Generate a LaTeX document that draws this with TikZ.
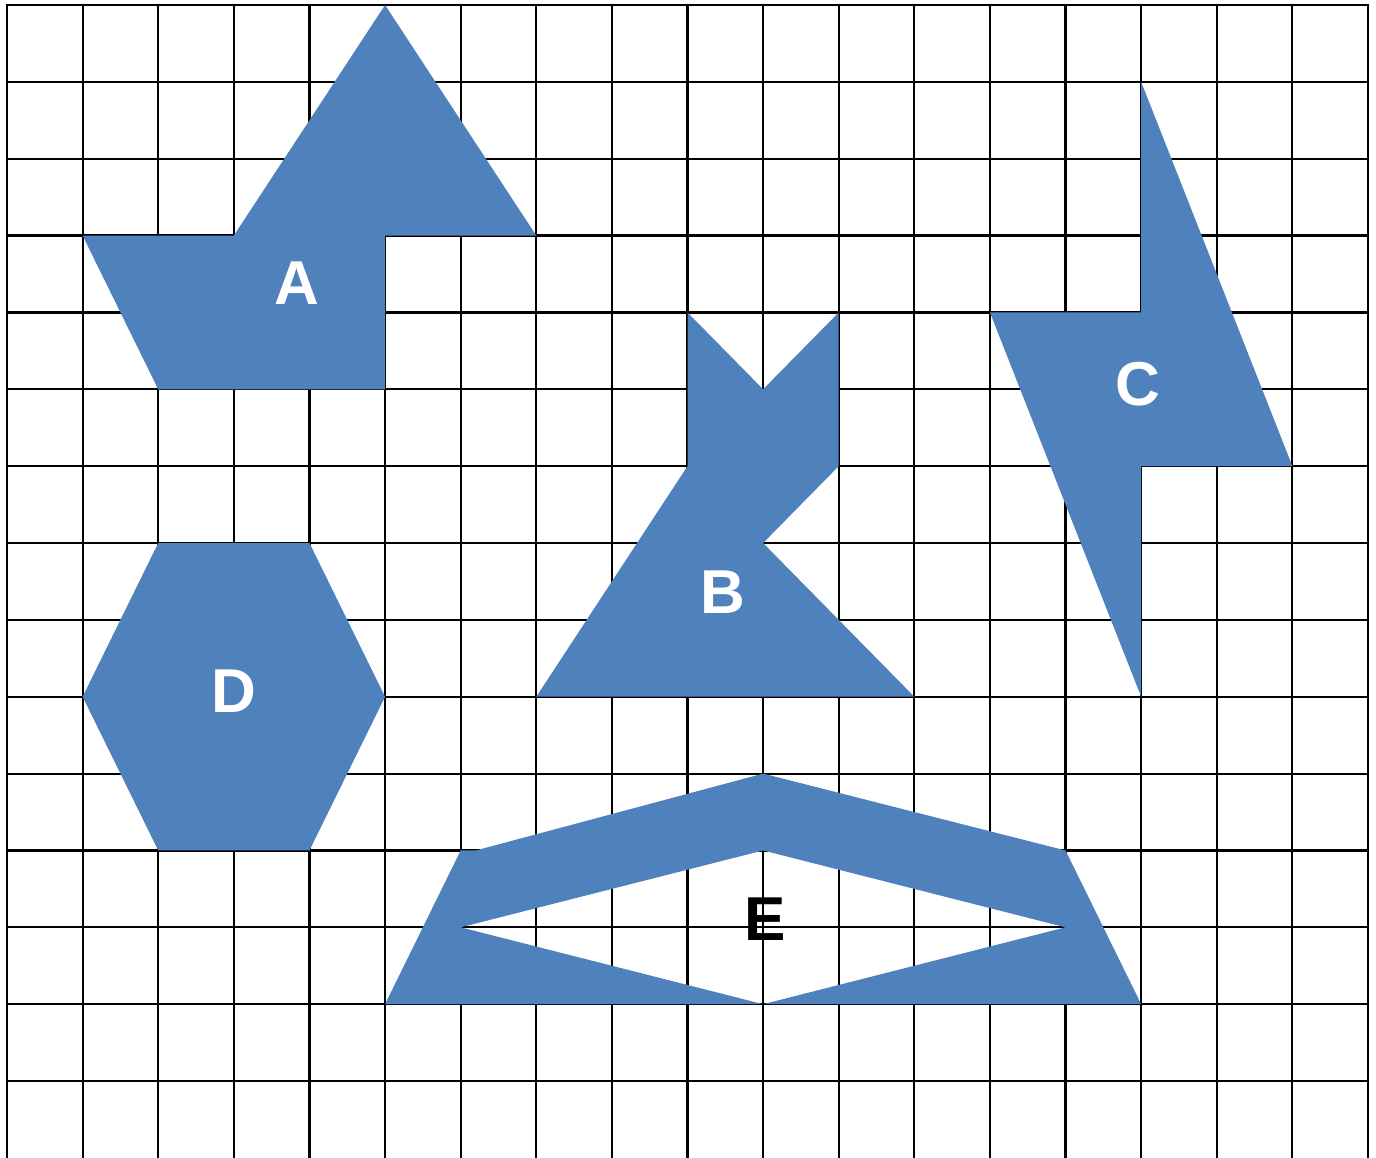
\documentclass[tikz,border=0pt]{standalone}
\usepackage{fontspec}
\setmainfont{Liberation Sans}
\definecolor{shapeblue}{HTML}{4F81BD}
\begin{document}
\begin{tikzpicture}[x={(75.61pt,0)},y={(0,-76.86pt)},
  gridline/.style={black,line width=2.2pt,line cap=rect},
  piece/.style={fill=shapeblue,draw=none},
  lbl/.style={font=\bfseries\fontsize{62}{62}\selectfont,text=white,inner sep=0pt,anchor=center},
  lblk/.style={lbl,text=black}]
\useasboundingbox (-0.0926,-0.065) rectangle (18.106,15.0);
% grid
\foreach \j in {0,...,14} \draw[gridline] (0,\j) -- (18,\j);
\foreach \i in {0,...,18} \draw[gridline] (\i,0) -- (\i,15.1);
% A
\fill[piece] (5,0) -- (7,3) -- (5,3) -- (5,5) -- (2,5) -- (1,3) -- (3,3) -- cycle;
% B
\fill[piece] (9,4) -- (10,5) -- (11,4) -- (11,6) -- (10,7) -- (12,9) -- (7,9) -- (9,6) -- cycle;
% C
\fill[piece] (15,1) -- (17,6) -- (15,6) -- (15,9) -- (13,4) -- (15,4) -- cycle;
% D
\fill[piece] (1,9) -- (2,7) -- (4,7) -- (5,9) -- (4,11) -- (2,11) -- cycle;
% E
\fill[piece,even odd rule] (6,11) -- (6.2,11) -- (10,10) -- (14,11) -- (15,13) -- (5,13) -- cycle
  (6,12) -- (10,11) -- (14,12) -- (10,13) -- cycle;
% labels
\node[lbl] (la) at (3.835,3.623) {A};
\node[lbl] (lb) at (9.470,7.637) {B};
\node[lbl] (lc) at (14.952,4.938) {C};
\node[lbl] (ld) at (3.002,8.925) {D};
\node[lblk] (le) at (10.032,11.898) {E};
\end{tikzpicture}
\end{document}
